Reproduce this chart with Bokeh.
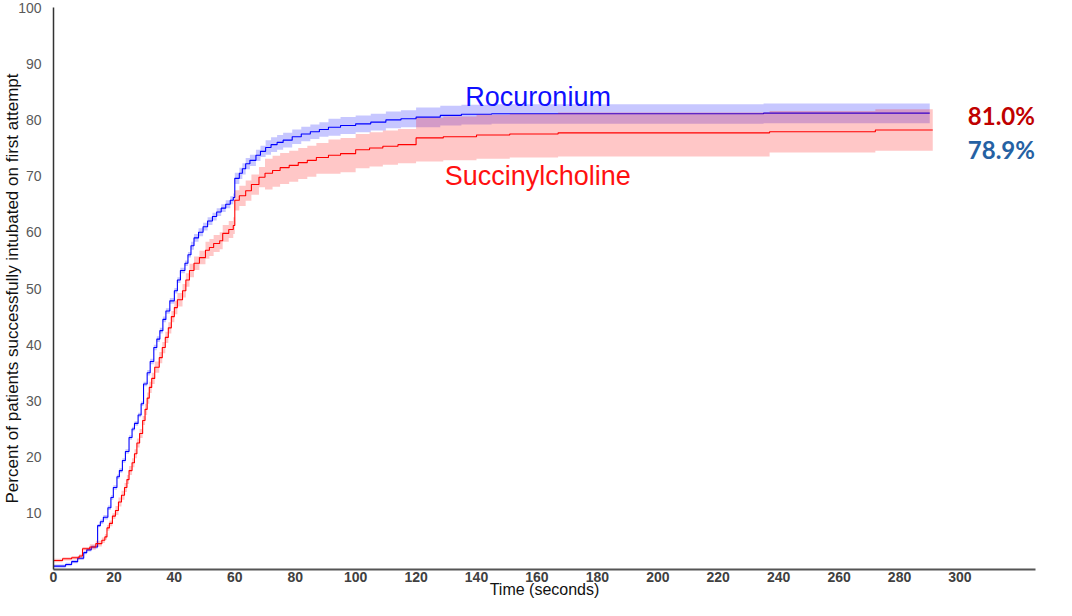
import numpy as np
from bokeh.plotting import figure
from bokeh.models import Label, FixedTicker, Range1d
from bokeh.embed import file_html
from bokeh.resources import INLINE

# ---- data ----
roc_t = [0, 4, 6, 8, 10, 11, 12.5, 14.6, 15.5, 16.5, 18, 19, 19.8, 21, 21.8, 22.8, 23.8, 25, 26, 26.8,
         28, 29, 29.8, 31, 32, 33.2, 34.2, 35.2, 36.2, 37.2, 38.5, 40, 41, 42, 43.5, 44.5, 45.5, 46.5, 48, 49.5,
         51, 52.6, 54, 55.5, 57, 58.5, 59.5, 60, 61.5, 62.5, 63.6, 65, 67, 68.5, 70.2, 72, 74, 76, 79, 82,
         85, 88, 91, 95, 100, 105, 110, 115, 120, 128, 135, 145, 235, 290]
roc_s = [0.6, 0.9, 1.4, 2.0, 3.0, 3.5, 4.0, 7.8, 8.5, 9.3, 11.0, 12.8, 14.6, 16.5, 17.6, 19.4, 21.0, 23.5, 25.0, 26.0,
         27.5, 29.5, 33.0, 35.0, 37.0, 39.5, 41.0, 42.5, 44.5, 46.0, 47.8, 49.6, 51.5, 53.2, 54.5, 56.0, 57.6, 59.0, 60.0, 61.0,
         62.0, 62.8, 63.6, 64.3, 65.0, 65.7, 66.2, 69.6, 70.5, 71.3, 72.2, 72.8, 73.7, 74.4, 75.1, 75.6, 76.0, 76.4, 77.0, 77.5,
         77.9, 78.3, 78.7, 79.0, 79.3, 79.6, 80.0, 80.2, 80.5, 80.8, 81.0, 81.1, 81.2, 81.2]
roc_ci_from = [0, 15, 30, 45, 60, 70, 90, 120]
roc_ci_up = [0.3, 0.4, 0.5, 0.7, 1.0, 1.3, 1.5, 1.7]
roc_ci_lo = [0.3, 0.4, 0.5, 0.7, 1.0, 1.3, 1.5, 1.8]

suc_t = [0, 3, 6, 8.5, 9.6, 12, 14, 16, 17, 17.7, 18.5, 19.5, 20.5, 21.5, 22.5, 23.5, 24.3, 25, 26, 26.8,
         27.6, 28.5, 29.5, 30.3, 31, 31.7, 32.5, 33.5, 35, 36, 37, 38, 39, 40, 41, 42.7, 43.8, 45, 46.5, 48.3,
         50.3, 51.6, 53, 55, 56, 58, 59.5, 60, 61.5, 63.6, 65.5, 68, 70, 72.5, 75, 78, 81, 84, 87, 91,
         95, 100, 104.6, 109, 114, 120, 129, 140, 151, 167, 237, 272, 291]
suc_s = [1.6, 1.9, 2.1, 2.4, 3.7, 4.0, 4.6, 5.2, 5.8, 7.4, 8.2, 9.5, 10.5, 12.0, 13.2, 14.6, 16.0, 17.6, 19.0, 20.6,
         22.5, 24.2, 26.5, 28.5, 30.5, 32.4, 34.0, 36.0, 37.7, 39.5, 41.3, 43.0, 45.0, 46.6, 48.0, 49.6, 51.5, 53.2, 54.5, 55.5,
         56.8, 57.3, 58.0, 58.5, 59.8, 60.5, 61.2, 65.7, 66.5, 67.4, 68.5, 69.8, 70.5, 71.0, 71.5, 71.9, 72.4, 72.8, 73.3, 73.7,
         74.0, 74.7, 75.0, 75.3, 75.6, 76.8, 77.0, 77.3, 77.5, 77.7, 77.9, 78.2, 78.2]
suc_ci_from = [0, 10, 20, 30, 40, 50, 60, 70, 90, 120, 200]
suc_ci_up = [0.3, 0.5, 0.8, 1.0, 1.2, 1.5, 1.8, 2.6, 2.8, 3.6, 3.7]
suc_ci_lo = [0.3, 0.5, 0.8, 1.0, 1.2, 1.5, 1.8, 2.9, 3.3, 4.2, 3.7]

x_ticks = list(range(0, 301, 20))
y_ticks = list(range(10, 101, 10))
labels = ["Rocuronium", "Succinylcholine"]
final_pct = ["81.0%", "78.9%"]


def band(t, s, frm, up, lo):
    t = np.asarray(t, float)
    s = np.asarray(s, float)
    idx = np.searchsorted(np.asarray(frm, float), t, side="right") - 1
    return t, s, s + np.asarray(up)[idx], s - np.asarray(lo)[idx]


p = figure(width=1056, height=600, output_backend="svg", toolbar_location=None,
           x_range=Range1d(0, 325), y_range=Range1d(0, 100),
           min_border_left=53, min_border_right=21, min_border_top=7, min_border_bottom=31)
p.outline_line_color = None
p.grid.visible = False
p.background_fill_color = "white"

rt, rs, ru, rl = band(roc_t, roc_s, roc_ci_from, roc_ci_up, roc_ci_lo)
st, ss, su, sl = band(suc_t, suc_s, suc_ci_from, suc_ci_up, suc_ci_lo)

p.varea_step(x=rt, y1=rl, y2=ru, step_mode="after", fill_color="#0000ff", fill_alpha=0.22)
p.step(rt, rs, mode="after", line_color="#0000ff", line_width=1.1)
p.varea_step(x=st, y1=sl, y2=su, step_mode="after", fill_color="#ff0000", fill_alpha=0.22)
p.step(st, ss, mode="after", line_color="#ff0000", line_width=1.1)

# axes
p.xaxis.ticker = FixedTicker(ticks=x_ticks)
p.yaxis.ticker = FixedTicker(ticks=y_ticks)
for ax in (p.xaxis, p.yaxis):
    ax.major_tick_line_color = None
    ax.minor_tick_line_color = None
    ax.major_label_text_font = "Liberation Sans"
    ax.major_label_text_font_size = "14px"
    ax.axis_label_text_font = "Liberation Sans"
    ax.axis_label_text_font_style = "normal"
    ax.axis_label_text_color = "#111111"
p.xaxis.axis_line_color = "#555555"
p.xaxis.axis_line_width = 2
p.xaxis.major_label_text_font_style = "bold"
p.xaxis.major_label_text_color = "#404040"
p.xaxis.major_label_standoff = -4
p.xaxis.axis_label = "Time (seconds)"
p.xaxis.axis_label_text_font_size = "16px"
p.xaxis.axis_label_standoff = -4
p.yaxis.axis_line_color = "#333333"
p.yaxis.axis_line_width = 1.5
p.yaxis.major_label_text_color = "#595959"
p.yaxis.major_label_standoff = 6
p.yaxis.axis_label = "Percent of patients successfully intubated on first attempt"
p.yaxis.axis_label_text_font_size = "17px"
p.yaxis.axis_label_standoff = -7

p.add_layout(Label(x=136.3, y=84.0, text=labels[0], text_align="left", text_baseline="middle",
                   text_font="Liberation Sans", text_font_size="27px", text_color="#1010ff"))
p.add_layout(Label(x=129.5, y=70.0, text=labels[1], text_align="left", text_baseline="middle",
                   text_font="Liberation Sans", text_font_size="27px", text_color="#ff1010"))
p.add_layout(Label(x=302.6, y=80.7, text=final_pct[0], text_align="left", text_baseline="middle",
                   text_font="Lato", text_font_size="24px", text_font_style="bold", text_color="#c00000"))
p.add_layout(Label(x=302.6, y=74.8, text=final_pct[1], text_align="left", text_baseline="middle",
                   text_font="Lato", text_font_size="24px", text_font_style="bold", text_color="#2561a3"))

open("out.html", "w").write(file_html(p, INLINE))
